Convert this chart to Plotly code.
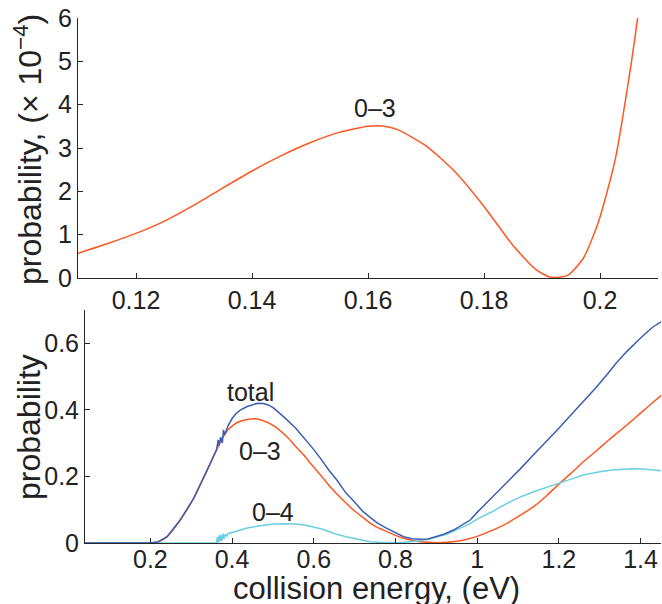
import plotly.graph_objects as go

# ---------------- data ----------------
# top panel: 0-3 probability (x 1e-4) vs collision energy (eV)
top_x = [0.110, 0.115, 0.120, 0.125, 0.130, 0.135, 0.140, 0.145, 0.150, 0.155,
         0.160, 0.1625, 0.165, 0.170, 0.175, 0.180, 0.185, 0.1889, 0.1915, 0.1944,
         0.1971, 0.1997, 0.2026, 0.2053, 0.2066]
top_y = [0.57, 0.79, 1.03, 1.32, 1.68, 2.08, 2.47, 2.82, 3.12, 3.36,
         3.50, 3.51, 3.43, 3.05, 2.45, 1.65, 0.75, 0.20, 0.015, 0.06,
         0.45, 1.28, 2.72, 4.88, 6.10]

# bottom panel
o3_x = [0.04, 0.20, 0.22, 0.241, 0.273, 0.306, 0.339, 0.372, 0.39, 0.412, 0.437, 0.455,
        0.475, 0.502, 0.532, 0.556, 0.575, 0.597, 0.616, 0.638, 0.656, 0.679, 0.697,
        0.72, 0.738, 0.756, 0.779, 0.80, 0.82, 0.84, 0.86, 0.88, 0.90, 0.925, 0.95,
        0.975, 1.0, 1.035, 1.073, 1.105, 1.138, 1.17, 1.2, 1.23, 1.26, 1.29, 1.317,
        1.34, 1.366, 1.4, 1.425, 1.452]
o3_y = [0, 0, 0.004, 0.019, 0.069, 0.134, 0.219, 0.305, 0.34, 0.362, 0.371, 0.373,
        0.368, 0.352, 0.322, 0.29, 0.265, 0.232, 0.205, 0.172, 0.148, 0.12, 0.099,
        0.077, 0.06, 0.047, 0.034, 0.023, 0.014, 0.008, 0.004, 0.002, 0.001, 0.002, 0.005,
        0.011, 0.02, 0.037, 0.059, 0.083, 0.109, 0.142, 0.177, 0.21, 0.244, 0.275, 0.304,
        0.328, 0.354, 0.39, 0.417, 0.445]

o4_x = [0.04, 0.362, 0.364, 0.366, 0.368, 0.370, 0.372, 0.375, 0.378, 0.38, 0.383,
        0.387, 0.39, 0.40, 0.41, 0.42, 0.437, 0.46, 0.48, 0.502, 0.53, 0.556, 0.58,
        0.597, 0.62, 0.64, 0.656, 0.679, 0.70, 0.72, 0.738, 0.76, 0.78, 0.80, 0.82,
        0.84, 0.86, 0.88, 0.90, 0.925, 0.95, 0.983, 1.0, 1.035, 1.073, 1.105, 1.138,
        1.17, 1.2, 1.23, 1.26, 1.30, 1.33, 1.357, 1.38, 1.406, 1.43, 1.452]
o4_y = [0, 0, 0.018, 0.002, 0.022, 0.004, 0.025, 0.006, 0.028, 0.012, 0.026,
        0.02, 0.028, 0.032, 0.036, 0.04, 0.045, 0.05, 0.054, 0.057, 0.058, 0.057, 0.053,
        0.049, 0.042, 0.033, 0.026, 0.019, 0.013, 0.008, 0.004, 0.002, 0.001, 0.001, 0.002,
        0.004, 0.007, 0.011, 0.017, 0.026, 0.04, 0.058, 0.072, 0.093, 0.119, 0.138, 0.154,
        0.168, 0.179, 0.192, 0.204, 0.214, 0.219, 0.222, 0.223, 0.222, 0.22, 0.217]

tot_x = [0.04, 0.20, 0.22, 0.241, 0.273, 0.306, 0.339, 0.362, 0.366, 0.368, 0.372,
         0.376, 0.379, 0.382, 0.39, 0.40, 0.41, 0.42, 0.437, 0.45, 0.463, 0.477, 0.49,
         0.502, 0.515, 0.53, 0.556, 0.575, 0.597, 0.616, 0.638, 0.656, 0.679, 0.697,
         0.72, 0.738, 0.756, 0.779, 0.80, 0.82, 0.84, 0.86, 0.88, 0.90, 0.92, 0.942,
         0.962, 0.983, 1.0, 1.035, 1.073, 1.105, 1.138, 1.17, 1.2, 1.23, 1.26, 1.29,
         1.317, 1.34, 1.366, 1.385, 1.4, 1.43, 1.452]
tot_y = [0, 0, 0.004, 0.019, 0.069, 0.134, 0.219, 0.28, 0.31, 0.292, 0.318,
         0.30, 0.34, 0.325, 0.352, 0.374, 0.389, 0.399, 0.41, 0.415, 0.42, 0.419, 0.414,
         0.405, 0.392, 0.375, 0.345, 0.318, 0.285, 0.255, 0.217, 0.19, 0.15, 0.127,
         0.095, 0.077, 0.06, 0.044, 0.03, 0.019, 0.013, 0.011, 0.012, 0.019, 0.027, 0.039,
         0.053, 0.069, 0.092, 0.135, 0.18, 0.222, 0.265, 0.305, 0.345, 0.385, 0.425, 0.466,
         0.505, 0.54, 0.575, 0.598, 0.616, 0.649, 0.666]

# labels
top_label = "0\u20133"
bottom_labels = ["total", "0\u20133", "0\u20134"]
bottom_label_x = [0.445, 0.469, 0.50]
bottom_label_y = [0.454, 0.277, 0.094]
top_ytitle = "probability, (\u00d7 10<sup>\u22124</sup>)"
bottom_ytitle = "probability"
bottom_xtitle = "collision energy, (eV)"

ORANGE = "#ff5722"
BLUE = "#3a5fb2"
CYAN = "#6ccfdf"
FONT = "Liberation Sans, Arial, Helvetica, sans-serif"
AX = "#262626"
TXT = "#222222"

W, H = 662, 604

fig = go.Figure()
fig.add_trace(go.Scatter(x=top_x, y=top_y, mode="lines",
                         line=dict(color=ORANGE, width=1.5, shape="spline", smoothing=0.6),
                         xaxis="x", yaxis="y", showlegend=False))
fig.add_trace(go.Scatter(x=o3_x, y=o3_y, mode="lines",
                         line=dict(color=ORANGE, width=1.5, shape="spline", smoothing=0.5),
                         xaxis="x2", yaxis="y2", showlegend=False))
fig.add_trace(go.Scatter(x=o4_x, y=o4_y, mode="lines", line=dict(color=CYAN, width=1.5),
                         xaxis="x2", yaxis="y2", showlegend=False))
fig.add_trace(go.Scatter(x=tot_x, y=tot_y, mode="lines", line=dict(color=BLUE, width=1.5),
                         xaxis="x2", yaxis="y2", showlegend=False))

common = dict(showgrid=False, zeroline=False, showline=True, linecolor=AX, linewidth=1,
              ticks="inside", ticklen=5, tickwidth=1, tickcolor=AX, automargin=False,
              tickfont=dict(family=FONT, size=25, color=TXT), mirror=False)
title_font = dict(family=FONT, size=31, color=TXT)

fig.update_layout(
    width=W, height=H,
    margin=dict(l=0, r=0, t=0, b=0, pad=0),
    paper_bgcolor="white", plot_bgcolor="white",
    font=dict(family=FONT, color=TXT),
    xaxis=dict(domain=[78 / W, 658 / W], range=[0.11, 0.21], tick0=0.12, dtick=0.02,
               anchor="y", **common),
    yaxis=dict(domain=[(H - 278) / H, (H - 18) / H], range=[0, 6], dtick=1, anchor="x",
               **common),
    xaxis2=dict(domain=[85 / W, 661 / W], range=[0.04, 1.45], tick0=0.2, dtick=0.2,
                anchor="y2", ticklabelstandoff=-6, **common),
    yaxis2=dict(domain=[(H - 543) / H, (H - 310) / H], range=[0, 0.7],
                tickvals=[0, 0.2, 0.4, 0.6], anchor="x2", **common),
)

# axis titles
fig.add_annotation(x=28 / W, y=1 - 150 / H, xref="paper", yref="paper", text=top_ytitle,
                   textangle=-90, showarrow=False, xanchor="center", yanchor="middle",
                   font=dict(family=FONT, size=32, color=TXT))
fig.add_annotation(x=29 / W, y=1 - 427 / H, xref="paper", yref="paper", text=bottom_ytitle,
                   textangle=-90, showarrow=False, xanchor="center", yanchor="middle",
                   font=dict(family=FONT, size=32, color=TXT))
fig.add_annotation(x=376 / W, y=1 - 588 / H, xref="paper", yref="paper", text=bottom_xtitle,
                   showarrow=False, xanchor="center", yanchor="middle", font=title_font)

# curve labels
fig.add_annotation(x=0.1612, y=3.93, xref="x", yref="y", text=top_label, showarrow=False,
                   font=dict(family=FONT, size=25, color=TXT))
for t, lx, ly in zip(bottom_labels, bottom_label_x, bottom_label_y):
    fig.add_annotation(x=lx, y=ly, xref="x2", yref="y2", text=t, showarrow=False,
                       font=dict(family=FONT, size=25, color=TXT))

fig.write_html("out.html")
